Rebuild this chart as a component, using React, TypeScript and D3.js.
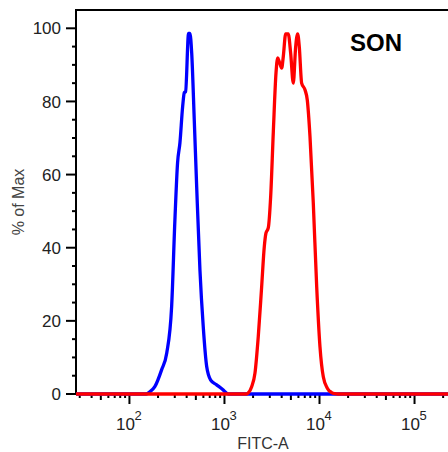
import React from 'react';
import * as d3 from 'd3';

// Blue histogram (control)
const blueX = [150, 164, 185, 218, 247, 278, 301, 321, 340, 363, 378, 390, 419, 433, 452, 481, 510, 552, 598, 650, 716, 827, 971, 1036, 1100];
const blueY = [0, 0.6, 2.0, 6.6, 11.2, 23.9, 47.6, 63.2, 68.7, 78.6, 82.4, 82.7, 98.6, 98.6, 93.3, 75, 56.7, 33.9, 18.4, 7.5, 3.8, 2.5, 1.1, 0.4, 0];

// Red histogram (SON)
const redX = [1700, 1780, 1933, 2094, 2268, 2463, 2625, 2732, 2890, 3063, 3263, 3486, 3632, 3772, 4000, 4160, 4407, 4690, 4972, 5299, 5614, 5891, 6127, 6489, 7034, 7438, 7943, 8601, 9341, 10118, 10963, 12079, 13439, 14565, 15500];
const redY = [0, 0.3, 2.0, 5.7, 15.7, 29.4, 40.3, 44.0, 45.4, 54.0, 71.4, 87.8, 91.9, 90.9, 89.1, 92.3, 98.5, 98.5, 93.2, 85.0, 95.0, 98.5, 95.0, 85.0, 83.2, 80.4, 70.4, 52.3, 29.4, 12.9, 4.7, 1.6, 0.4, 0.1, 0];

const yTicks = [0, 20, 40, 60, 80, 100];
const xDecades = [2, 3, 4, 5];
const xDomain = [27.4, 225000];
const title = 'SON';
const xLabel = 'FITC-A';
const yLabel = '% of Max';

const W = 448;
const H = 452;
const left = 76;
const right = 448;
const top = 10;
const bottom = 394;

export default function App() {
  const x = d3.scaleLog().domain(xDomain).range([left, right]);
  const y = d3.scaleLinear().domain([0, 100]).range([bottom, 28.3]);

  const mk = (xs: number[], ys: number[]) => {
    const pts: [number, number][] = [[xDomain[0], 0]];
    xs.forEach((v, i) => pts.push([v, ys[i]]));
    pts.push([xDomain[1], 0]);
    return pts;
  };
  const line = d3
    .line<[number, number]>()
    .x((d) => x(d[0]))
    .y((d) => y(d[1]))
    .curve(d3.curveMonotoneX);

  const minorX: { v: number; mid: boolean }[] = [];
  for (let e = 1; e <= 5; e++) {
    for (let k = 2; k <= 9; k++) {
      const v = k * Math.pow(10, e);
      if (v > xDomain[0] && v < xDomain[1]) minorX.push({ v, mid: k === 5 });
    }
  }
  const minorY: number[] = [];
  for (let v = 5; v < 100; v += 5) if (v % 20 !== 0) minorY.push(v);

  const font = "'Liberation Sans', Arial, sans-serif";

  return (
    <svg
      width={W}
      height={H}
      style={{ position: 'absolute', left: 0, top: 0, background: '#fff' }}
      fontFamily={font}
    >
      <rect x={0} y={0} width={W} height={H} fill="#fff" />
      {/* frame */}
      <line x1={left} x2={right} y1={top} y2={top} stroke="#000" strokeWidth={2} />
      <line x1={left} x2={left} y1={top - 1} y2={bottom + 1} stroke="#000" strokeWidth={2} />
      <line x1={left} x2={right} y1={bottom} y2={bottom} stroke="#000" strokeWidth={2} />

      {/* y ticks */}
      {yTicks.map((t) => (
        <g key={'yt' + t}>
          <line x1={left - 10} x2={left} y1={y(t)} y2={y(t)} stroke="#000" strokeWidth={2} />
          <text x={61} y={y(t)} dy="0.36em" textAnchor="end" fontSize={17} fill="#222">
            {t}
          </text>
        </g>
      ))}
      {minorY.map((t) => (
        <line key={'ym' + t} x1={left - 4} x2={left} y1={y(t)} y2={y(t)} stroke="#000" strokeWidth={2} />
      ))}

      {/* x ticks */}
      {minorX.map((m) => (
        <line
          key={'xm' + m.v}
          x1={x(m.v)}
          x2={x(m.v)}
          y1={bottom}
          y2={bottom + (m.mid ? 6 : 4)}
          stroke="#000"
          strokeWidth={2}
        />
      ))}
      {xDecades.map((e) => (
        <g key={'xd' + e}>
          <line x1={x(Math.pow(10, e))} x2={x(Math.pow(10, e))} y1={bottom} y2={bottom + 10} stroke="#000" strokeWidth={2} />
          <text x={x(Math.pow(10, e)) - 4} y={430} textAnchor="middle" fontSize={17} fill="#222">
            10
          </text>
          <text x={x(Math.pow(10, e)) + 5} y={420} textAnchor="start" fontSize={13} fill="#222">
            {e}
          </text>
        </g>
      ))}

      {/* curves */}
      <path d={line(mk(blueX, blueY)) || ''} fill="none" stroke="#0000ff" strokeWidth={3.3} strokeLinejoin="round" />
      <path d={line(mk(redX, redY)) || ''} fill="none" stroke="#ff0000" strokeWidth={3.3} strokeLinejoin="round" />

      {/* labels */}
      <text x={263} y={449} textAnchor="middle" fontSize={16} fill="#333">
        {xLabel}
      </text>
      <text
        transform={`translate(24, ${(top + bottom) / 2}) rotate(-90)`}
        textAnchor="middle"
        fontSize={16}
        fill="#444"
      >
        {yLabel}
      </text>
      <text x={350} y={51} fontSize={24} fontWeight="bold" fill="#000">
        {title}
      </text>
    </svg>
  );
}
